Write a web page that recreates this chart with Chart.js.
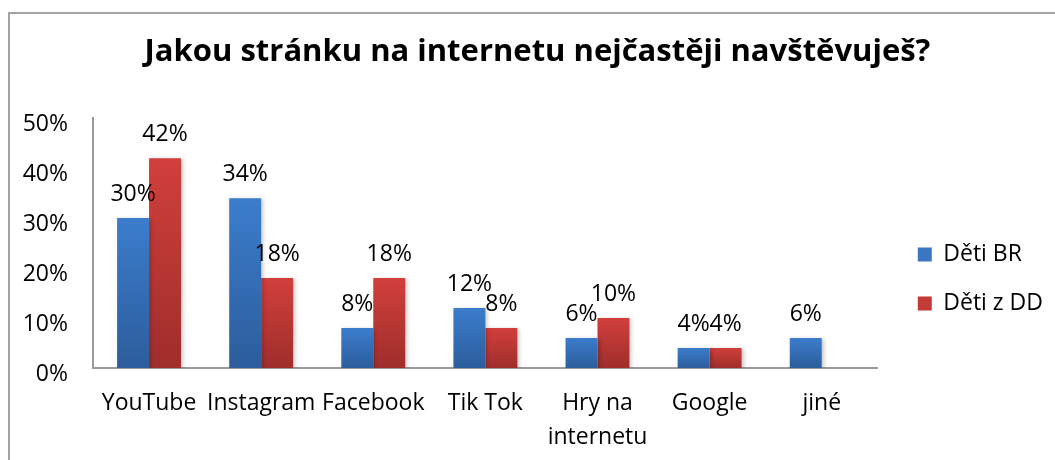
<!DOCTYPE html>
<html>
<head>
<meta charset="utf-8">
<script src="https://cdn.jsdelivr.net/npm/chart.js@4.4.0/dist/chart.umd.min.js"></script>
<style>
  html, body { margin: 0; padding: 0; background: #fff; }
  #wrap { position: relative; width: 1055px; height: 460px; }
  #frame {
    position: absolute; left: 8px; top: 12px; right: 0; bottom: 0;
    border-top: 2px solid #a3a3a3; border-left: 2px solid #a3a3a3;
    pointer-events: none;
  }
  canvas { position: absolute; left: 0; top: 0; }
</style>
</head>
<body>
<div id="wrap">
  <canvas id="chart" width="1055" height="460"></canvas>
  <div id="frame"></div>
</div>
<script>
  const FONT = "'Open Sans', sans-serif";

  const titleText = "Jakou stránku na internetu nejčastěji navštěvuješ?";
  const categories = ["YouTube", "Instagram", "Facebook", "Tik Tok", ["Hry na", "internetu"], "Google", "jiné"];
  const seriesNames = ["Děti BR", "Děti z DD"];
  const detiBR = [30, 34, 8, 12, 6, 4, 6];
  const detiDD = [42, 18, 18, 8, 10, 4, null];
  const yTicks = [0, 10, 20, 30, 40, 50];

  const blueStops = ["#3b7dcc", "#2c5d9c"];
  const redStops = ["#d13f3b", "#9f2e2b"];
  const legendColors = ["#3a76c2", "#c43a37"];

  // vertical gradient running from the top of each bar to the baseline
  function barGradient(stops) {
    return function (ctx) {
      const chart = ctx.chart;
      if (!chart.chartArea || ctx.raw == null) return stops[0];
      const yScale = chart.scales.y;
      const top = yScale.getPixelForValue(ctx.raw);
      const bottom = yScale.getPixelForValue(0);
      if (!(bottom > top)) return stops[0];
      const g = chart.ctx.createLinearGradient(0, top, 0, bottom);
      g.addColorStop(0, stops[0]);
      g.addColorStop(1, stops[1]);
      return g;
    };
  }

  const shadowPlugin = {
    id: "barShadow",
    beforeDatasetsDraw(chart) {
      const c = chart.ctx;
      c.save();
      c.shadowColor = "rgba(0,0,0,0.22)";
      c.shadowBlur = 4;
      c.shadowOffsetX = 2;
      c.shadowOffsetY = 1;
    },
    afterDatasetsDraw(chart) {
      chart.ctx.restore();
    },
  };

  const valueLabels = {
    id: "valueLabels",
    afterDraw(chart) {
      const c = chart.ctx;
      c.save();
      c.font = "23px " + FONT;
      c.fillStyle = "#000";
      c.textAlign = "center";
      c.textBaseline = "middle";
      chart.data.datasets.forEach((ds, i) => {
        const meta = chart.getDatasetMeta(i);
        meta.data.forEach((bar, j) => {
          const v = ds.data[j];
          if (v == null) return;
          c.fillText(v + "%", bar.x, bar.y - 24);
        });
      });
      c.restore();
    },
  };

  new Chart(document.getElementById("chart"), {
    type: "bar",
    data: {
      labels: categories,
      datasets: [
        { label: seriesNames[0], data: detiBR, backgroundColor: barGradient(blueStops) },
        { label: seriesNames[1], data: detiDD, backgroundColor: barGradient(redStops) },
      ],
    },
    options: {
      responsive: false,
      animation: false,
      events: [],
      datasets: { bar: { categoryPercentage: 0.57, barPercentage: 1.0 } },
      layout: { padding: { left: 22, top: 34, right: 2, bottom: 0 } },
      plugins: {
        title: {
          display: true,
          text: titleText,
          color: "#000",
          font: { family: FONT, size: 31, weight: "bold" },
          padding: { top: 0, bottom: 47 },
        },
        legend: {
          position: "right",
          title: { display: true, text: " ", font: { size: 20 }, padding: 20 },
          labels: {
            color: "#000",
            font: { family: FONT, size: 23 },
            boxWidth: 14,
            boxHeight: 14,
            padding: 26,
            generateLabels(chart) {
              const items = Chart.defaults.plugins.legend.labels.generateLabels(chart);
              items.forEach((it, i) => {
                it.fillStyle = legendColors[i];
                it.strokeStyle = legendColors[i];
                it.lineWidth = 0;
              });
              return items;
            },
          },
        },
        tooltip: { enabled: false },
      },
      scales: {
        x: {
          grid: { display: false, drawTicks: false },
          border: { color: "#9a9a9a", width: 2 },
          ticks: {
            color: "#000",
            font: { family: FONT, size: 23, lineHeight: 1.5 },
            padding: 18,
            maxRotation: 0,
            autoSkip: false,
          },
          afterFit(scale) {
            scale.height = 92;
            scale.paddingLeft = 0;
            scale.paddingRight = 0;
          },
        },
        y: {
          min: 0,
          max: 50,
          afterBuildTicks(scale) {
            scale.ticks = yTicks.map((v) => ({ value: v }));
          },
          grid: { display: false, drawTicks: false },
          border: { color: "#9a9a9a", width: 2 },
          ticks: {
            color: "#000",
            font: { family: FONT, size: 23 },
            padding: 25,
            labelOffset: 6,
            callback: (v) => v + "%",
          },
          afterFit(scale) {
            scale.width = 71;
          },
        },
        gap: {
          position: "right",
          display: true,
          grid: { display: false },
          border: { display: false },
          ticks: { display: false },
          afterFit(scale) {
            scale.width = 14;
          },
        },
      },
    },
    plugins: [shadowPlugin, valueLabels],
  });
</script>
</body>
</html>
